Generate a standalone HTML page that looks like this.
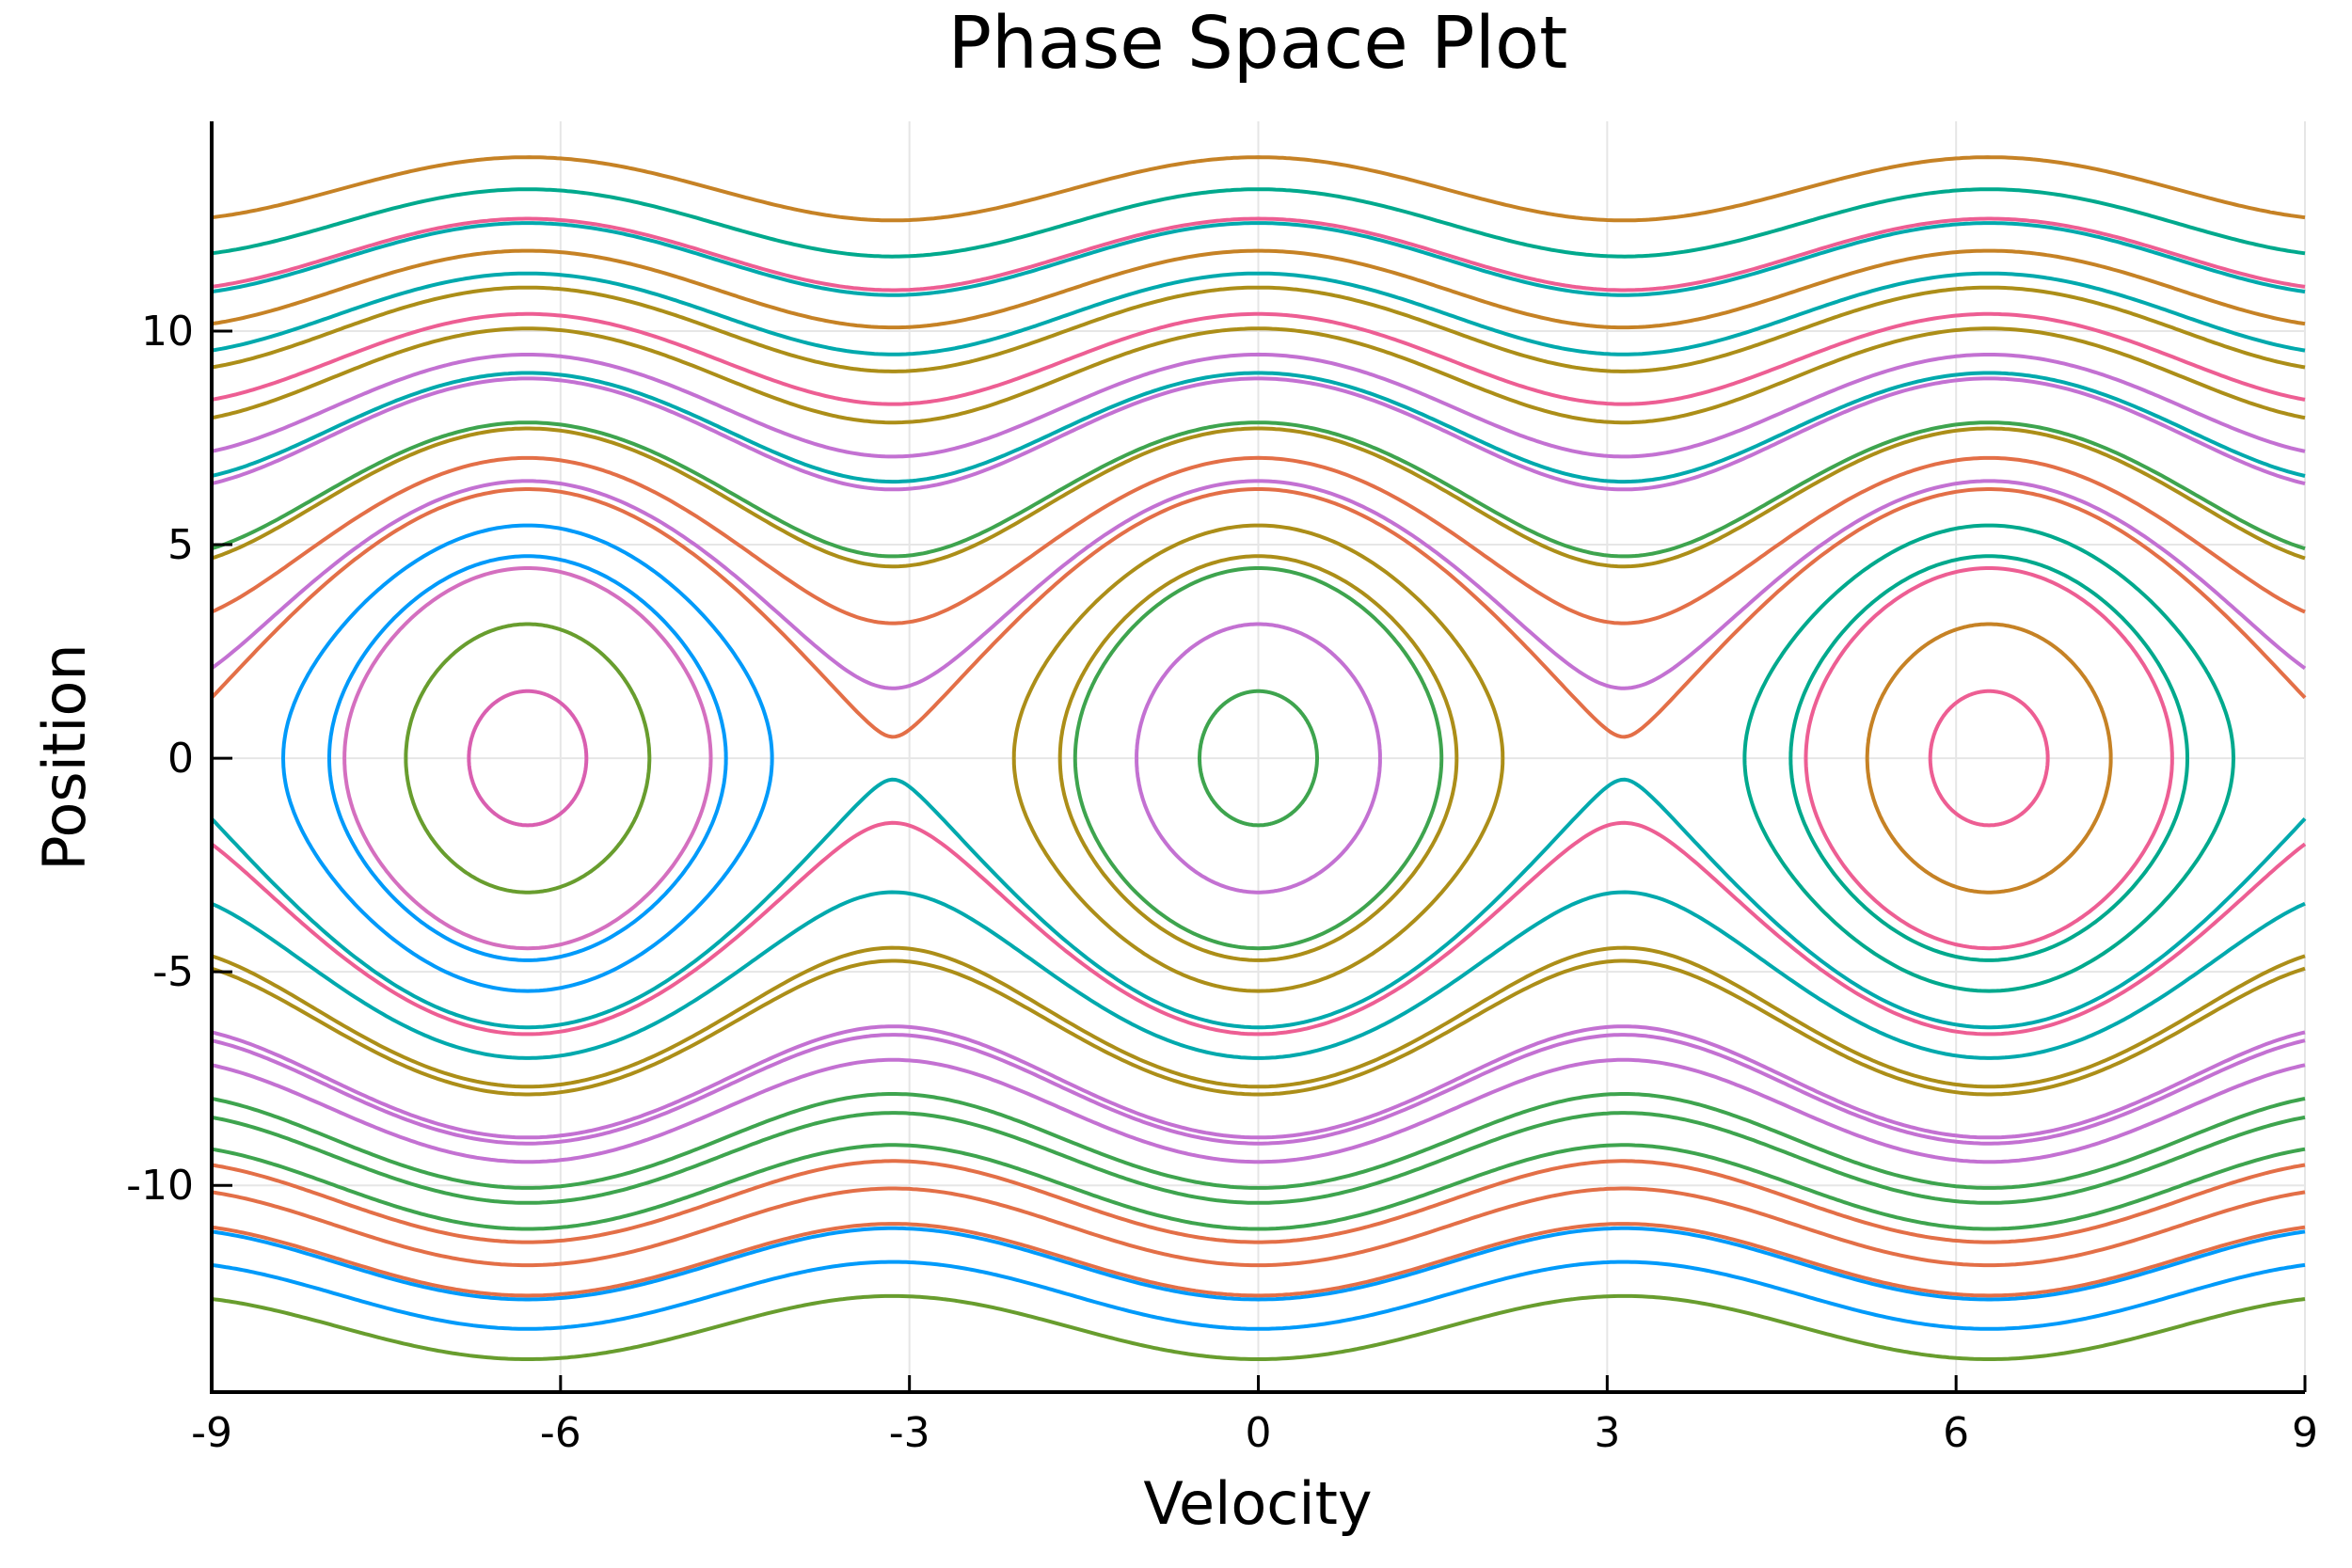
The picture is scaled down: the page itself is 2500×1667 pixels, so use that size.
<!DOCTYPE html>
<html><head><meta charset="utf-8"><style>
html,body{margin:0;padding:0;background:#fff}
svg{display:block}
text{font-family:"DejaVu Sans","Liberation Sans",sans-serif;fill:#000}
</style></head><body>
<svg id="chart" width="2500" height="1667" viewBox="0 0 2500 1667" xmlns="http://www.w3.org/2000/svg">
<rect width="2500" height="1667" fill="#fff"/>
<g id="grid"></g>
<g id="series"></g>
<g id="axes"></g>
<text x="1337" y="72" font-size="77" text-anchor="middle">Phase Space Plot</text>
<text x="1337" y="1620" font-size="62" text-anchor="middle">Velocity</text>
<text x="0" y="0" font-size="62" text-anchor="middle" transform="translate(90,805) rotate(-90)">Position</text>
</svg>
<script>
// ---- data ----
const xTicks = [-9, -6, -3, 0, 3, 6, 9];
const yTicks = [-10, -5, 0, 5, 10];
const openTop = [14.07, 13.32, 12.63, 12.53, 11.88, 11.35, 11.02, 10.40, 10.06, 9.45, 9.02, 8.89, 7.86, 7.72, 7.03, 6.49, 6.30];
const openTopColors = ["#C68225","#00A98D","#ED5E93","#00A9AD","#C68225","#00A9AD","#AC8E18","#ED5E93","#AC8E18","#C371D2","#00A9AD","#C371D2","#3EA44E","#AC8E18","#E36F47","#C371D2","#E36F47"];
const openBottom = [-6.30, -6.46, -7.02, -7.69, -7.87, -8.88, -9.02, -9.45, -10.06, -10.41, -11.02, -11.33, -11.87, -12.58, -12.67, -13.36, -14.07];
const openBottomColors = ["#00A9AD","#ED5E93","#00A9AD","#AC8E18","#AC8E18","#C371D2","#C371D2","#C371D2","#3EA44E","#3EA44E","#3EA44E","#E36F47","#E36F47","#E36F47","#009AFA","#009AFA","#689D2E"];
const closedPeaks = [5.45, 4.73, 4.45, 3.14, 1.57];
const centers = [-6.2832, 0, 6.2832];
const closedColorsLeft = ["#009AFA","#009AFA","#D46FBF","#689D2E","#D95FB0"];
const closedColorsMid = ["#AC8E18","#AC8E18","#3EA44E","#C371D2","#3EA44E"];
const closedColorsRight = ["#00A98D","#00A98D","#ED5E93","#C68225","#ED5E93"];
const K = 9.86;

// ---- scales ----
const X0 = 225, X1 = 2450, Y0 = 1480, Y1 = 129;
const xMin = -9, xMax = 9, yMin = -14.84, yMax = 14.91;
const sx = v => X0 + (v - xMin) / (xMax - xMin) * (X1 - X0);
const sy = v => Y0 - (v - yMin) / (yMax - yMin) * (Y0 - Y1);
const NS = "http://www.w3.org/2000/svg";
const grid = document.getElementById('grid');
const axes = document.getElementById('axes');
const series = document.getElementById('series');
function mk(tag, attrs, parent){ const e=document.createElementNS(NS,tag); for(const k in attrs) e.setAttribute(k,attrs[k]); parent.appendChild(e); return e; }

xTicks.forEach(t => {
  const g = mk('line',{x1:sx(t),x2:sx(t),y1:Y1,y2:Y0,stroke:'#e6e6e6','stroke-width':2},grid);
  
  
  const tk = mk('line',{x1:sx(t),x2:sx(t),y1:Y0,y2:Y0-18,stroke:'#000','stroke-width':3},axes);
  
  
  const lb = mk('text',{x:sx(t),y:1538,'font-size':44,'text-anchor':'middle'},axes);
  lb.textContent = String(t);
  
  
});
yTicks.forEach(t => {
  const g = mk('line',{x1:X0,x2:X1,y1:sy(t),y2:sy(t),stroke:'#e6e6e6','stroke-width':2},grid);
  
  
  const tk = mk('line',{x1:X0,x2:X0+22,y1:sy(t),y2:sy(t),stroke:'#000','stroke-width':3},axes);
  
  
  const lb = mk('text',{x:206,y:sy(t)+15,'font-size':44,'text-anchor':'end'},axes);
  lb.textContent = String(t);
  
  
});
const ax = mk('path',{d:`M${X0},${Y1} L${X0},${Y0} L${X1},${Y0}`,fill:'none',stroke:'#000','stroke-width':4},axes);



function openPath(y0){
  const s = Math.sign(y0); let d='';
  for(let i=0;i<=600;i++){
    const x = xMin + (xMax-xMin)*i/600;
    const v = y0*y0 - 2*K*(1-Math.cos(x));
    const y = s*Math.sqrt(Math.max(v,0));
    d += (i?'L':'M') + sx(x).toFixed(1) + ',' + sy(y).toFixed(1);
  }
  return d;
}
function closedPath(c, y0){
  const a = Math.acos(1 - y0*y0/(2*K));
  const N=200, pts=[];
  for(let i=0;i<=N;i++){
    const t = -a + 2*a*(1-Math.cos(Math.PI*i/N))/2;
    const v = y0*y0 - 2*K*(1-Math.cos(t));
    pts.push([t, Math.sqrt(Math.max(v,0))]);
  }
  let d='';
  pts.forEach((p,i)=>{ d += (i?'L':'M') + sx(c+p[0]).toFixed(1)+','+sy(p[1]).toFixed(1); });
  for(let i=pts.length-1;i>=0;i--){ d += 'L' + sx(c+pts[i][0]).toFixed(1)+','+sy(-pts[i][1]).toFixed(1); }
  return d + 'Z';
}
openTop.forEach((y0,i)=>{
  const p = mk('path',{d:openPath(y0),fill:'none',stroke:openTopColors[i],'stroke-width':4},series);
  
  
});
openBottom.forEach((y0,i)=>{
  const p = mk('path',{d:openPath(y0),fill:'none',stroke:openBottomColors[i],'stroke-width':4},series);
  
  
});
const colorSets = [closedColorsLeft, closedColorsMid, closedColorsRight];
centers.forEach((c,ci)=>{
  closedPeaks.forEach((y0,i)=>{
    const p = mk('path',{d:closedPath(c,y0),fill:'none',stroke:colorSets[ci][i],'stroke-width':4},series);
    
    
  });
});
</script>
</body></html>
